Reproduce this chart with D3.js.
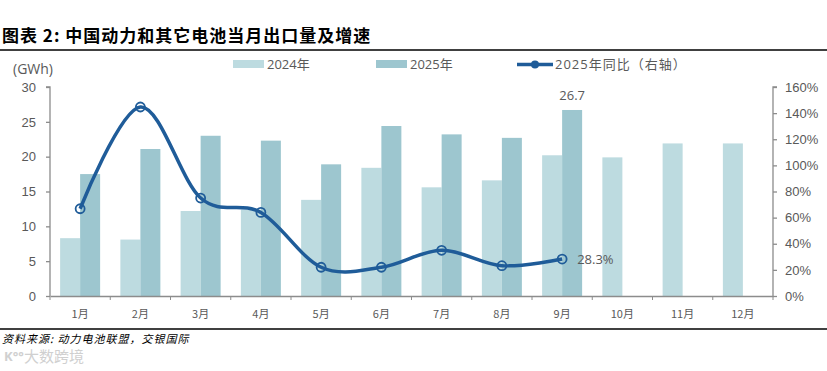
<!DOCTYPE html>
<html>
<head>
<meta charset="utf-8">
<script src="https://cdn.jsdelivr.net/npm/d3@7"></script>
<style>
  body { margin: 0; background: #fff; }
  svg { display: block; font-family: "Open Sans", "Noto Sans CJK SC", sans-serif; }
</style>
</head>
<body>
<script>
// monthly export volume (GWh) and yoy growth
var months = ["1月","2月","3月","4月","5月","6月","7月","8月","9月","10月","11月","12月"];
var vol2024 = [8.3, 8.1, 12.2, 12.4, 13.8, 18.4, 15.6, 16.6, 20.2, 19.9, 21.9, 21.9];
var vol2025 = [17.5, 21.1, 23.0, 22.3, 18.9, 24.4, 23.2, 22.7, 26.7];
var yoy2025 = [66.8, 144.7, 75.0, 64.0, 22.0, 22.0, 35.0, 23.2, 28.3];
var leftTicks = [0, 5, 10, 15, 20, 25, 30];
var rightTicks = [0, 20, 40, 60, 80, 100, 120, 140, 160];

var W = 827, H = 371;
var m = {left: 50, right: 54, top: 87, bottom: 75};
var c24 = "#bddbe0", c25 = "#9dc6cf", cLine = "#1f5c99", cText = "#595959", cAxis = "#8c8c8c";

var svg = d3.select("body").append("svg").attr("width", W).attr("height", H);

// title + rules
svg.append("text").attr("x", 2).attr("y", 42)
  .attr("font-family", "'Noto Sans CJK SC', sans-serif")
  .attr("font-size", 17).attr("font-weight", "bold").attr("fill", "#000")
  .attr("letter-spacing", 1)
  .text("图表 2: 中国动力和其它电池当月出口量及增速");
svg.append("line").attr("x1", 0).attr("x2", W).attr("y1", 50).attr("y2", 50)
  .attr("stroke", "#000").attr("stroke-width", 1.5);
svg.append("line").attr("x1", 0).attr("x2", W).attr("y1", 329).attr("y2", 329)
  .attr("stroke", "#000").attr("stroke-width", 1.5);
svg.append("text").attr("x", 2).attr("y", 343)
  .attr("font-family", "'Noto Sans CJK SC', sans-serif")
  .attr("font-size", 11).attr("font-style", "italic").attr("fill", "#000")
  .attr("letter-spacing", 1)
  .text("资料来源: 动力电池联盟，交银国际");
svg.append("text").attr("x", 24).attr("y", 362)
  .attr("font-family", "'Noto Sans CJK SC', sans-serif")
  .attr("font-size", 15).attr("fill", "#d0d0d0")
  .text("大数跨境");
svg.append("text").attr("x", 4).attr("y", 361)
  .attr("font-size", 13).attr("font-weight", "bold").attr("fill", "#d0d0d0")
  .text("K°°");

var x = d3.scaleBand().domain(months).range([m.left, W - m.right]);
var yL = d3.scaleLinear().domain([0, 30]).range([H - m.bottom, m.top]);
var yR = d3.scaleLinear().domain([0, 160]).range([H - m.bottom, m.top]);
var bw = 20;

// bars
svg.append("g").selectAll("rect").data(vol2024).join("rect")
  .attr("x", function(d, i){ return x(months[i]) + x.bandwidth()/2 - bw; })
  .attr("y", function(d){ return yL(d); })
  .attr("width", bw)
  .attr("height", function(d){ return yL(0) - yL(d); })
  .attr("fill", c24);
svg.append("g").selectAll("rect").data(vol2025).join("rect")
  .attr("x", function(d, i){ return x(months[i]) + x.bandwidth()/2; })
  .attr("y", function(d){ return yL(d); })
  .attr("width", bw)
  .attr("height", function(d){ return yL(0) - yL(d); })
  .attr("fill", c25);

// axes
var axL = svg.append("g").attr("transform", "translate(" + m.left + ",0)")
  .call(d3.axisLeft(yL).tickValues(leftTicks).tickSize(4).tickPadding(10));
var axR = svg.append("g").attr("transform", "translate(" + (W - m.right) + ",0)")
  .call(d3.axisRight(yR).tickValues(rightTicks).tickSize(4).tickPadding(8)
    .tickFormat(function(d){ return d + "%"; }));
var axB = svg.append("g").attr("transform", "translate(0," + yL(0) + ")")
  .call(d3.axisBottom(x).tickSize(0).tickPadding(14));
// category boundary ticks
svg.append("g").selectAll("line").data(months.concat(["end"])).join("line")
  .attr("x1", function(d, i){ return m.left + i * x.step(); })
  .attr("x2", function(d, i){ return m.left + i * x.step(); })
  .attr("y1", yL(0)).attr("y2", yL(0) + 4)
  .attr("stroke", cAxis);
[axL, axR, axB].forEach(function(a){
  a.selectAll("path,line").attr("stroke", cAxis).attr("stroke-width", 1.3);
  a.selectAll("text").attr("fill", cText).attr("font-size", 13);
});
axB.selectAll("text").attr("font-size", 11).attr("font-family", "'Noto Sans CJK SC', sans-serif");
axL.select("path").attr("d", "M-4," + m.top + "H0V" + yL(0));
axR.select("path").attr("d", "M4," + m.top + "H0V" + yL(0));

svg.append("text").attr("x", 13).attr("y", 74)
  .attr("font-size", 14).attr("fill", cText).text("(GWh)");

// yoy line
var px = function(d, i){ return x(months[i]) + x.bandwidth()/2; };
var line = d3.line().x(px).y(function(d){ return yR(d); })
  .curve(d3.curveCardinal.tension(0));
svg.append("path").datum(yoy2025).attr("d", line)
  .attr("fill", "none").attr("stroke", cLine).attr("stroke-width", 3.5);
svg.append("g").selectAll("circle").data(yoy2025).join("circle")
  .attr("cx", px).attr("cy", function(d){ return yR(d); })
  .attr("r", 4.5).attr("fill", "none")
  .attr("stroke", cLine).attr("stroke-width", 1.8);

// data labels
svg.append("text").attr("x", x("9月") + x.bandwidth()/2 + 10).attr("y", yL(26.7) - 10)
  .attr("text-anchor", "middle").attr("font-size", 13).attr("fill", cText).text("26.7");
svg.append("text").attr("x", x("9月") + x.bandwidth()/2 + 15).attr("y", yR(28.3) + 5)
  .attr("font-size", 13).attr("fill", cText).text("28.3%");

// legend
var lg = svg.append("g").attr("font-size", 13).attr("fill", cText)
  .attr("font-family", "'Open Sans', 'Noto Sans CJK SC', sans-serif");
lg.append("rect").attr("x", 233).attr("y", 60).attr("width", 31).attr("height", 8).attr("fill", c24);
lg.append("text").attr("x", 267).attr("y", 69).text("2024年");
lg.append("rect").attr("x", 376).attr("y", 60).attr("width", 31).attr("height", 8).attr("fill", c25);
lg.append("text").attr("x", 410).attr("y", 69).text("2025年");
lg.append("line").attr("x1", 517).attr("x2", 553).attr("y1", 64.5).attr("y2", 64.5)
  .attr("stroke", cLine).attr("stroke-width", 3.5);
lg.append("circle").attr("cx", 535).attr("cy", 64.5).attr("r", 4).attr("fill", cLine);
lg.append("text").attr("x", 555).attr("y", 69).attr("letter-spacing", 1).text("2025年同比（右轴）");
</script>
</body>
</html>
